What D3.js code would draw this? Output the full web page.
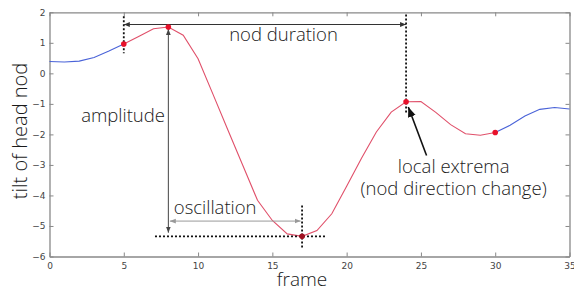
<!DOCTYPE html>
<html>
<head>
<meta charset="utf-8">
<script src="https://cdn.jsdelivr.net/npm/d3@7"></script>
<style>
  body { margin: 0; background: #fff; }
  svg { display: block; }
  .tick text { font-family: "DejaVu Sans", sans-serif; font-size: 9px; fill: #444; }
  .note { font-family: "Open Sans", "Liberation Sans", sans-serif; font-weight: 300; font-size: 18.5px; fill: #1a1a1a; }
</style>
</head>
<body>
<div class="d3-container"></div>
<script>
// frame index and head tilt
const frames = [0,1,2,3,4,5,6,7,8,9,10,11,12,13,14,15,16,17,18,19,20,21,22,23,24,25,26,27,28,29,30,31,32,33,34,35];
const tilt = [0.39,0.37,0.40,0.52,0.73,0.96,1.21,1.46,1.52,1.25,0.48,-0.68,-1.85,-3.0,-4.16,-4.82,-5.26,-5.34,-5.15,-4.6,-3.7,-2.78,-1.92,-1.27,-0.93,-0.92,-1.28,-1.68,-1.98,-2.03,-1.94,-1.7,-1.4,-1.18,-1.12,-1.17];
const nodStart = 5, nodEnd = 30;
const extremaFrames = [5, 8, 17, 24, 30];
const xTicks = [0,5,10,15,20,25,30,35];
const yTicks = [-6,-5,-4,-3,-2,-1,0,1,2];

// annotation lines in data units: [x1, y1, x2, y2]
const dottedLines = [[5, 1.87, 5, 0.66], [24, 1.93, 24, -1.32], [17, -4.33, 17, -5.75], [7.1, -5.34, 18.65, -5.34]];
const arrows = [
  {pts: [5, 1.6, 24, 1.6], color: "#333"},
  {pts: [8, 1.45, 8, -5.22], color: "#444"},
  {pts: [8.1, -4.84, 16.9, -4.84], color: "#999"}
];
const pointer = [25.38, -2.69, 24.15, -1.1];
const labels = [
  {lines: ["nod duration"], x: 15.75, y: 1.05},
  {lines: ["amplitude"], x: 4.95, y: -1.6},
  {lines: ["oscillation"], x: 11.15, y: -4.62},
  {lines: ["local extrema", "(nod direction change)"], x: 27.2, y: -3.26}
];

const width = 574, height = 291;
const margin = {top: 12.3, bottom: 34.5, left: 49.5, right: 4.5};

const svg = d3.select(".d3-container")
  .append("svg")
  .attr("width", width)
  .attr("height", height);

const x = d3.scaleLinear().domain([0, 35]).range([margin.left, width - margin.right]);
const y = d3.scaleLinear().domain([-6, 2]).range([height - margin.bottom, margin.top]);

const defs = svg.append("defs");
function addMarker(id, color, size) {
  defs.append("marker")
    .attr("id", id)
    .attr("viewBox", "0 0 10 10")
    .attr("refX", 10).attr("refY", 5)
    .attr("markerWidth", size).attr("markerHeight", size)
    .attr("markerUnits", "userSpaceOnUse")
    .attr("orient", "auto-start-reverse")
    .append("path")
    .attr("d", "M0,1 L10,5 L0,9 Z")
    .attr("fill", color);
}
addMarker("ah333", "#333", 6);
addMarker("ah444", "#444", 6);
addMarker("ah999", "#999", 6);
addMarker("ahBig", "#111", 10);

// axes, ticks pointing inward on all four sides
const bottomAxis = d3.axisBottom(x).tickValues(xTicks).tickSizeInner(-4).tickSizeOuter(0).tickPadding(6);
const topAxis = d3.axisTop(x).tickValues(xTicks).tickSizeInner(-4).tickSizeOuter(0).tickFormat("");
const leftAxis = d3.axisLeft(y).tickValues(yTicks).tickSizeInner(-4).tickSizeOuter(0).tickPadding(4)
  .tickFormat(d => d < 0 ? "\u2212" + Math.abs(d) : d);
const rightAxis = d3.axisRight(y).tickValues(yTicks).tickSizeInner(-4).tickSizeOuter(0).tickFormat("");

function styleAxis(g) {
  g.select(".domain").attr("stroke", "#888").attr("stroke-width", 1.3);
  g.selectAll(".tick line").attr("stroke", "#888");
}
svg.append("g").attr("transform", `translate(0,${y(-6)})`).call(bottomAxis).call(styleAxis);
svg.append("g").attr("transform", `translate(0,${y(2)})`).call(topAxis).call(styleAxis);
svg.append("g").attr("transform", `translate(${x(0)},0)`).call(leftAxis).call(styleAxis);
svg.append("g").attr("transform", `translate(${x(35)},0)`).call(rightAxis).call(styleAxis);

// the curve: blue outside the nod, red during it
const pts = frames.map((f, i) => ({f: f, v: tilt[i]}));
const line = d3.line().x(d => x(d.f)).y(d => y(d.v));
const segments = [
  {data: pts.filter(d => d.f <= nodStart), color: "#4a63d8"},
  {data: pts.filter(d => d.f >= nodStart && d.f <= nodEnd), color: "#e0506a"},
  {data: pts.filter(d => d.f >= nodEnd), color: "#4a63d8"}
];
svg.append("g").selectAll("path")
  .data(segments)
  .join("path")
  .attr("d", d => line(d.data))
  .attr("fill", "none")
  .attr("stroke", d => d.color)
  .attr("stroke-width", 1.1);

// dotted guides
svg.append("g").selectAll("line")
  .data(dottedLines)
  .join("line")
  .attr("x1", d => x(d[0])).attr("y1", d => y(d[1]))
  .attr("x2", d => x(d[2])).attr("y2", d => y(d[3]))
  .attr("stroke", "#111")
  .attr("stroke-width", 1.8)
  .attr("stroke-dasharray", "2,2");

// double headed arrows
svg.append("g").selectAll("line")
  .data(arrows)
  .join("line")
  .attr("x1", d => x(d.pts[0])).attr("y1", d => y(d.pts[1]))
  .attr("x2", d => x(d.pts[2])).attr("y2", d => y(d.pts[3]))
  .attr("stroke", d => d.color)
  .attr("stroke-width", 1)
  .attr("marker-start", d => `url(#ah${d.color.slice(1)})`)
  .attr("marker-end", d => `url(#ah${d.color.slice(1)})`);

// pointer to the local extremum
svg.append("line")
  .attr("x1", x(pointer[0])).attr("y1", y(pointer[1]))
  .attr("x2", x(pointer[2])).attr("y2", y(pointer[3]))
  .attr("stroke", "#111")
  .attr("stroke-width", 1.6)
  .attr("marker-end", "url(#ahBig)");

// red markers at the extrema
svg.append("g").selectAll("circle")
  .data(pts.filter(d => extremaFrames.includes(d.f)))
  .join("circle")
  .attr("cx", d => x(d.f))
  .attr("cy", d => y(d.v))
  .attr("r", 2.8)
  .attr("fill", d => d.f === 17 ? "#a01020" : "#e8102a");

// annotation text, multi-line ones as tspans
svg.append("g").selectAll("text")
  .data(labels)
  .join("text")
  .attr("class", "note")
  .attr("y", d => y(d.y))
  .attr("text-anchor", "middle")
  .each(function(d) {
    d3.select(this).selectAll("tspan")
      .data(d.lines)
      .join("tspan")
      .attr("x", x(d.x))
      .attr("dy", (t, i) => i === 0 ? 0 : 22)
      .text(t => t);
  });

// axis titles
svg.append("text")
  .attr("class", "note")
  .attr("x", 302)
  .attr("y", 286)
  .attr("text-anchor", "middle")
  .style("font-size", "19px")
  .text("frame");

svg.append("text")
  .attr("class", "note")
  .attr("transform", `translate(27,131) rotate(-90)`)
  .attr("text-anchor", "middle")
  .style("font-size", "20px")
  .text("tilt of head nod");
</script>
</body>
</html>
